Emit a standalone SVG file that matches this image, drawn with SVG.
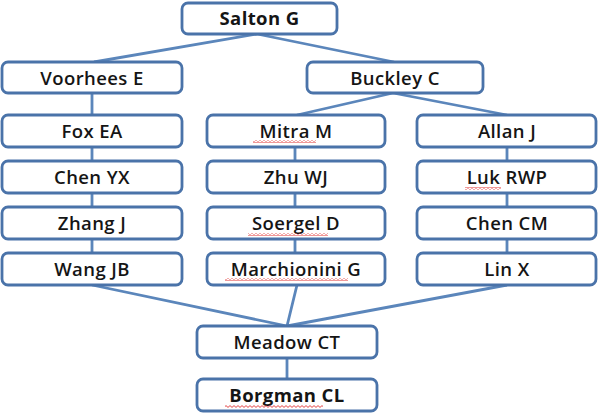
<svg xmlns="http://www.w3.org/2000/svg" width="600" height="413" viewBox="0 0 600 413">
<style>
.box{fill:#fff;stroke:#4a73a9;stroke-width:2.8}
.t{font-family:"Open Sans","DejaVu Sans",sans-serif;font-size:18.5px;font-weight:600;letter-spacing:0.4px;fill:#151515;text-anchor:middle}
.b{font-weight:bold;letter-spacing:0.4px}
.c{stroke:#5b86bb;stroke-width:2.8;fill:none}
.sq{fill:url(#sq)}
</style>
<defs>
<pattern id="sq" width="4" height="3" patternUnits="userSpaceOnUse"><path d="M0,2.4 L2,0.6 L4,2.4" stroke="#e03030" stroke-width="0.9" fill="none"/></pattern>
</defs>
<rect width="600" height="413" fill="#fff"/>
<g id="connectors">
<path class="c" d="M257,34 L94,62 M257,34 L394,62"/>
<path class="c" d="M393,93 L297,115 M393,93 L507,115"/>
<path class="c" d="M92,93 V115 M92,147 V161 M92,193 V207 M92,239 V253"/>
<path class="c" d="M295,147 V161 M295,193 V207 M295,239 V253"/>
<path class="c" d="M507,147 V161 M507,193 V207 M507,239 V253"/>
<path class="c" d="M92,285 L287,326 M297,285 L287,326 M507,285 L287,326"/>
<path class="c" d="M287,358 V379"/>
</g>
<g id="salton"><rect class="box" x="182" y="3" width="155" height="31" rx="6"/><text class="t b" x="259.5" y="25">Salton G</text></g>
<g id="voorhees"><rect class="box" x="2" y="62" width="180" height="31" rx="6"/><text class="t" x="92" y="84.5">Voorhees E</text></g>
<g id="buckley"><rect class="box" x="307" y="62" width="176" height="31" rx="6"/><text class="t" x="395" y="84.5">Buckley C</text></g>
<g id="fox"><rect class="box" x="2" y="115" width="180" height="32" rx="6"/><text class="t" x="92" y="138">Fox EA</text></g>
<g id="chenyx"><rect class="box" x="2" y="161" width="180" height="32" rx="6"/><text class="t" x="92" y="184">Chen YX</text></g>
<g id="zhang"><rect class="box" x="2" y="207" width="180" height="32" rx="6"/><text class="t" x="92" y="230">Zhang J</text></g>
<g id="wang"><rect class="box" x="2" y="253" width="180" height="32" rx="6"/><text class="t" x="92" y="276">Wang JB</text></g>
<g id="mitra"><rect class="box" x="207" y="115" width="178" height="32" rx="6"/><text class="t" x="296" y="138">Mitra M</text><rect class="sq" x="253" y="140" width="63" height="3"/></g>
<g id="zhu"><rect class="box" x="207" y="161" width="178" height="32" rx="6"/><text class="t" x="296" y="184">Zhu WJ</text></g>
<g id="soergel"><rect class="box" x="207" y="207" width="178" height="32" rx="6"/><text class="t" x="296" y="230">Soergel D</text><rect class="sq" x="248" y="233" width="80" height="3"/></g>
<g id="marchionini"><rect class="box" x="207" y="253" width="178" height="32" rx="6"/><text class="t" x="296" y="276">Marchionini G</text><rect class="sq" x="225" y="278" width="123" height="3"/></g>
<g id="allan"><rect class="box" x="417" y="115" width="179" height="32" rx="6"/><text class="t" x="507" y="138">Allan J</text></g>
<g id="luk"><rect class="box" x="417" y="161" width="179" height="32" rx="6"/><text class="t" x="507" y="184">Luk RWP</text><rect class="sq" x="465" y="187" width="36" height="3"/></g>
<g id="chencm"><rect class="box" x="417" y="207" width="179" height="32" rx="6"/><text class="t" x="507" y="230">Chen CM</text></g>
<g id="lin"><rect class="box" x="417" y="253" width="179" height="32" rx="6"/><text class="t" x="507" y="276">Lin X</text></g>
<g id="meadow"><rect class="box" x="197" y="326" width="180" height="32" rx="6"/><text class="t" x="287" y="349">Meadow CT</text></g>
<g id="borgman"><rect class="box" x="197" y="379" width="180" height="32" rx="6"/><text class="t b" x="287" y="402">Borgman CL</text><rect class="sq" x="225" y="405" width="98" height="3"/></g>
</svg>
